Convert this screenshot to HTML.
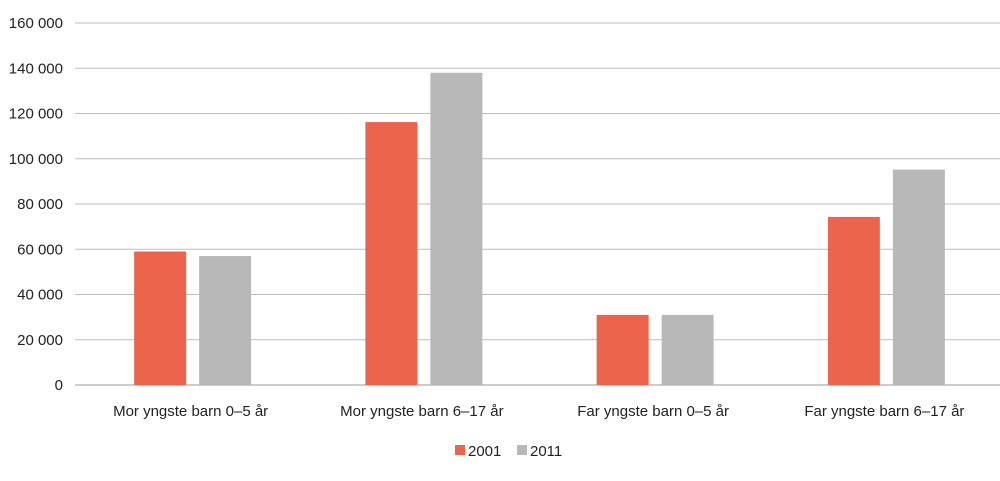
<!DOCTYPE html>
<html><head><meta charset="utf-8"><style>
body{margin:0;background:#fff;}
svg text{font-family:"Liberation Sans",sans-serif;fill:#222;}
</style></head><body>
<svg id="chart" width="1000" height="476"></svg>
<script>
const categories=["Mor yngste barn 0–5 år","Mor yngste barn 6–17 år","Far yngste barn 0–5 år","Far yngste barn 6–17 år"];
const series2001=[59000,116200,31000,74300];
const series2011=[57000,138000,31000,95200];
const yTicks=[0,20000,40000,60000,80000,100000,120000,140000,160000];
const seriesNames=["2001","2011"];
const colors=["#EB644B","#B8B8B8"];
const NS="http://www.w3.org/2000/svg";
const svg=document.getElementById('chart');
const x0=75,x1=1000,yBase=385,yTop=23,yMax=160000;
const y=v=>yBase-(v/yMax)*(yBase-yTop);
const bw=(x1-x0)/categories.length;
function mk(t,a,txt){const e=document.createElementNS(NS,t);for(const k in a)e.setAttribute(k,a[k]);if(txt!==undefined)e.textContent=txt;svg.appendChild(e);return e;}
yTicks.forEach(v=>{
 const l=mk('line',{x1:x0,x2:x1,y1:y(v),y2:y(v),stroke:v===0?'#999':'#bdbdbd','stroke-width':1});
 
 
 const t=mk('text',{x:63,y:y(v)+5,'text-anchor':'end','font-size':15},v===0?'0':v.toLocaleString('en-US').replace(/,/g,' '));
 
 
});
const barW=52,gap=13;
categories.forEach((c,i)=>{
 const cx=x0+bw*i+bw/2;
 [series2001,series2011].forEach((s,j)=>{
  const bx=(j===0?cx-gap/2-barW:cx+gap/2)+2;
  const r=mk('rect',{x:bx,y:y(s[i]),width:barW,height:yBase-y(s[i]),fill:colors[j]});
  
  
 });
 const t=mk('text',{x:cx,y:416,'text-anchor':'middle','font-size':15},c);
 
 
});
const lx=[455,517];
seriesNames.forEach((n,j)=>{
 const r=mk('rect',{x:lx[j],y:445,width:10,height:10,fill:colors[j]});
 
 
 const t=mk('text',{x:lx[j]+13,y:456,'font-size':15},n);
 
 
});
</script>
</body></html>
